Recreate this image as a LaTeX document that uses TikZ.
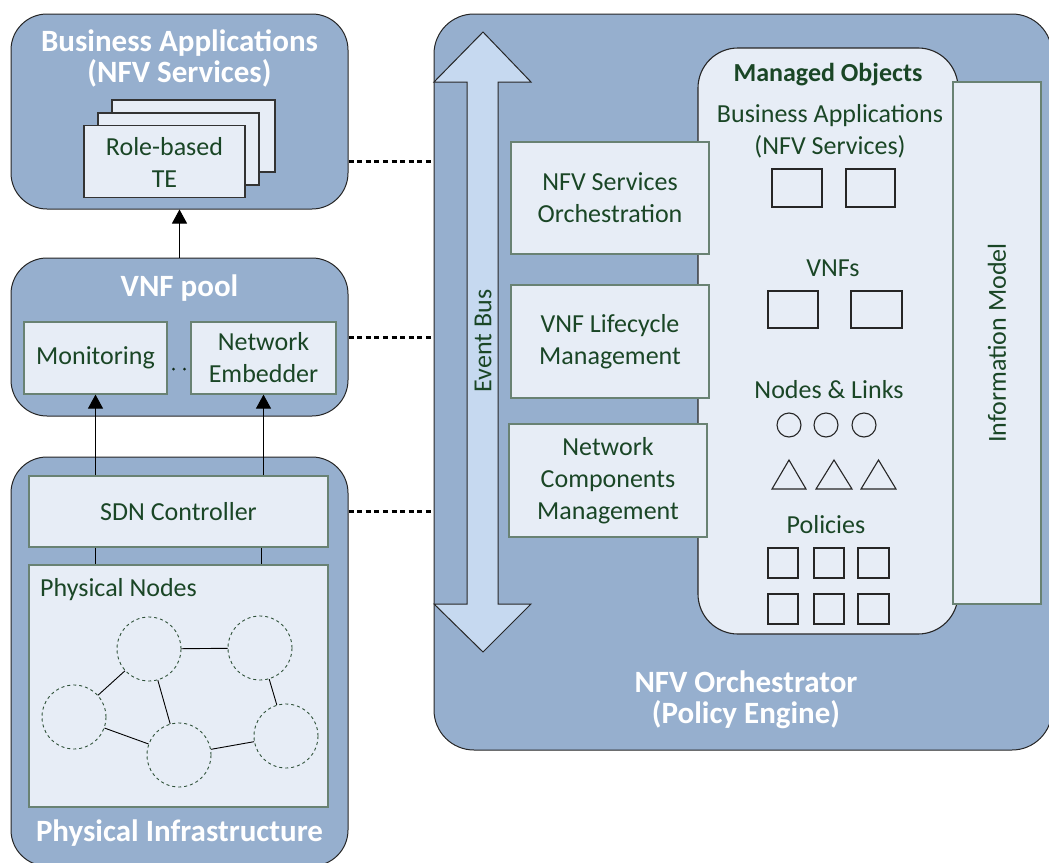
\documentclass[tikz,border=0pt]{standalone}
\usepackage{fontspec}
\setmainfont{Carlito}
\usetikzlibrary{arrows.meta,calc}
\definecolor{outerfill}{RGB}{150,175,206}
\definecolor{innerfill}{RGB}{231,237,246}
\definecolor{busfill}{RGB}{198,217,240}
\definecolor{txtgreen}{RGB}{26,70,38}
\definecolor{boxedge}{RGB}{105,130,115}
\begin{document}
\begin{tikzpicture}[x=1pt,y=-1pt,
  outerbox/.style={draw=black!85, line width=1pt, fill=outerfill, rounded corners=36pt, inner sep=0pt},
  innerbox/.style={draw=boxedge, line width=1.2pt, fill=innerfill, inner sep=0pt},
  pagebox/.style={draw=black!80, line width=1.1pt, fill=innerfill, inner sep=0pt, minimum width=161pt, minimum height=72pt},
  objbox/.style={draw=black!85, line width=1.1pt, fill=innerfill, inner sep=0pt},
  gtxt/.style={text=txtgreen, font=\fontsize{26}{32}\selectfont, align=center, inner sep=0pt},
  gbold/.style={text=txtgreen, font=\bfseries\fontsize{26}{32}\selectfont, align=center, inner sep=0pt},
  wtitle/.style={text=white, font=\bfseries\fontsize{31}{31}\selectfont, align=center, inner sep=0pt},
  arr/.style={draw=black, line width=1pt, -{Triangle[length=14pt,width=15pt]}},
  plain/.style={draw=black, line width=1pt},
  dotconn/.style={draw=black, line width=3pt, dash pattern=on 5pt off 3.6pt},
  smalldot/.style={circle, fill=txtgreen!60!black, minimum size=3pt, inner sep=0pt},
  pnode/.style={circle, draw=txtgreen!80!gray, dashed, line width=0.9pt, fill=innerfill, minimum size=64pt, inner sep=0pt},
  mcirc/.style={circle, draw=black!85, line width=1.1pt, fill=innerfill, minimum size=24pt, inner sep=0pt}
]
\useasboundingbox (0,0) rectangle (1049,862);

% ---------- Business applications ----------
\node[outerbox, minimum width=337pt, minimum height=195pt] (biz) at (179.5,111.5) {};
\node[wtitle] (biztitle) at (179.5,58) {Business Applications\\(NFV Services)};
\node[pagebox, minimum width=163pt] (page3) at (193.5,136) {};
\node[pagebox] (page2) at (178.5,149) {};
\node[pagebox] (page1) at (164.5,161.5) {};
\node[gtxt] (roletxt) at (164.5,162) {Role-based\\TE};

% ---------- VNF pool ----------
\node[outerbox, minimum width=337pt, minimum height=158pt] (vnfpool) at (179.5,337) {};
\node[wtitle] (vnftitle) at (179.5,288) {VNF pool};
\node[innerbox, minimum width=143pt, minimum height=72pt] (mon) at (95.5,358) {};
\node[gtxt] (montxt) at (95.5,358) {Monitoring};
\node[innerbox, minimum width=145pt, minimum height=72pt] (embed) at (263.5,358) {};
\node[gtxt] (embedtxt) at (263.5,358) {Network\\Embedder};
\node[smalldot] (dot1) at (173.5,369) {};
\node[smalldot] (dot2) at (184.5,369) {};

% ---------- Physical infrastructure ----------
\node[outerbox, minimum width=337pt, minimum height=409pt] (phys) at (179.5,661.5) {};
\node[innerbox, minimum width=299pt, minimum height=71pt] (sdn) at (178.5,511.5) {};
\node[gtxt] (sdntxt) at (178.5,511.5) {SDN Controller};
\node[innerbox, minimum width=299pt, minimum height=242pt] (physn) at (178.5,686) {};
\node[gtxt, anchor=west] (physntxt) at (40,590) {Physical Nodes};
\node[wtitle] (phystitle) at (179.5,833) {Physical Infrastructure};

\node[pnode] (p1) at (149,649) {};
\node[pnode] (p2) at (260,648) {};
\node[pnode] (p3) at (74,717) {};
\node[pnode] (p4) at (179,755) {};
\node[pnode] (p5) at (286,736) {};
\draw[plain, line width=0.9pt] (p1) -- (p2);
\draw[plain, line width=0.9pt] (p1) -- (p3);
\draw[plain, line width=0.9pt] (p1) -- (p4);
\draw[plain, line width=0.9pt] (p3) -- (p4);
\draw[plain, line width=0.9pt] (p4) -- (p5);
\draw[plain, line width=0.9pt] (p2) -- (p5);

% ---------- left connectors ----------
\draw[arr] (vnfpool.north) -- (biz.south);
\draw[arr] (sdn.north -| mon.south) -- (mon.south);
\draw[arr] (sdn.north -| embed.south) -- (embed.south);
\draw[plain] (sdn.south -| mon.south) -- (physn.north -| mon.south);
\draw[plain] ($(sdn.south -| embed.south)+(-2,0)$) -- ($(physn.north -| embed.south)+(-2,0)$);

% ---------- NFV Orchestrator ----------
\node[outerbox, rounded corners=40pt, minimum width=618pt, minimum height=736pt] (orch) at (743,382) {};
\node[wtitle] (orchtitle) at (746,699.5) {NFV Orchestrator\\(Policy Engine)};

% event bus (double arrow)
\draw[draw=black!85, line width=1pt, fill=busfill]
  (483,32) -- (531,82) -- (498,82) -- (498,604) -- (531,604) -- (483,652)
  -- (434,604) -- (467,604) -- (467,82) -- (434,82) -- cycle;
\node[gtxt, rotate=90] (bustxt) at (483,341) {Event Bus};

% managed objects
\node[objbox, rounded corners=40pt, minimum width=260pt, minimum height=586pt] (mo) at (828,341) {};
\node[innerbox, minimum width=88pt, minimum height=522pt] (info) at (997,343) {};
\node[gtxt, rotate=90] (infotxt) at (997,343) {Information Model};

\node[innerbox, minimum width=198pt, minimum height=112pt] (nso) at (610,198) {};
\node[gtxt] (nsotxt) at (610,198) {NFV Services\\Orchestration};
\node[innerbox, minimum width=198pt, minimum height=113pt] (vlm) at (610,341.5) {};
\node[gtxt] (vlmtxt) at (610,341.5) {VNF Lifecycle\\Management};
\node[innerbox, minimum width=198pt, minimum height=113pt] (ncm) at (608,480.5) {};
\node[gtxt] (ncmtxt) at (608,480.5) {Network\\Components\\Management};

\node[gbold] (motitle) at (828,75) {Managed Objects};
\node[gtxt] (batxt) at (830,131) {Business Applications\\(NFV Services)};
\node[objbox, minimum width=50pt, minimum height=38pt] (ba1) at (797,188) {};
\node[objbox, minimum width=49pt, minimum height=38pt] (ba2) at (870.5,188) {};

\node[gtxt] (vnfstxt) at (833,268) {VNFs};
\node[objbox, minimum width=50pt, minimum height=37pt] (vnf1) at (793,309.5) {};
\node[objbox, minimum width=51pt, minimum height=37pt] (vnf2) at (876.5,309.5) {};

\node[gtxt] (nltxt) at (829,390) {Nodes \& Links};
\node[mcirc] (c1) at (789,425) {};
\node[mcirc] (c2) at (826,425) {};
\node[mcirc] (c3) at (864,425) {};
\draw[draw=black!85, line width=1.1pt, fill=innerfill] (772,489) -- (789,460) -- (806,489) -- cycle;
\draw[draw=black!85, line width=1.1pt, fill=innerfill] (816,489) -- (834,460) -- (852,489) -- cycle;
\draw[draw=black!85, line width=1.1pt, fill=innerfill] (861,489) -- (878.5,460) -- (896,489) -- cycle;

\node[gtxt] (poltxt) at (826,525) {Policies};
\node[objbox, minimum width=30pt, minimum height=30pt] (q1) at (783,563) {};
\node[objbox, minimum width=30pt, minimum height=30pt] (q2) at (829,563) {};
\node[objbox, minimum width=31pt, minimum height=30pt] (q3) at (873.5,563) {};
\node[objbox, minimum width=30pt, minimum height=30pt] (q4) at (783,609) {};
\node[objbox, minimum width=30pt, minimum height=30pt] (q5) at (829,609) {};
\node[objbox, minimum width=31pt, minimum height=30pt] (q6) at (873.5,609) {};

% ---------- dotted connectors ----------
\draw[dotconn] (page1.center -| biz.east) -- (page1.center -| orch.west);
\draw[dotconn] (vnfpool.east) -- (vnfpool.east -| orch.west);
\draw[dotconn] (sdn.east -| phys.east) -- (sdn.east -| orch.west);
\end{tikzpicture}
\end{document}
